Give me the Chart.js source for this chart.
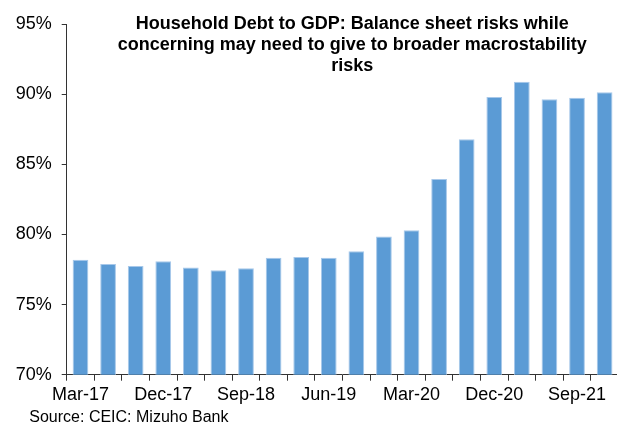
<!DOCTYPE html>
<html>
<head>
<meta charset="utf-8">
<script src="https://cdn.jsdelivr.net/npm/chart.js@4/dist/chart.umd.min.js"></script>
<style>
  html, body { margin: 0; padding: 0; background: #fff; overflow: hidden; }
  #wrap { width: 622px; height: 423px; }
</style>
</head>
<body>
<div id="wrap"><canvas id="debtChart" width="622" height="423"></canvas></div>
<script>
const quarters = ["Mar-17", "Jun-17", "Sep-17", "Dec-17", "Mar-18", "Jun-18", "Sep-18", "Dec-18",
    "Mar-19", "Jun-19", "Sep-19", "Dec-19", "Mar-20", "Jun-20", "Sep-20", "Dec-20",
    "Mar-21", "Jun-21", "Sep-21", "Dec-21"];
const debtToGdp = [78.2, 77.9, 77.75, 78.1, 77.65, 77.45, 77.6, 78.35,
    78.4, 78.35, 78.8, 79.85, 80.3, 83.95, 86.8, 89.8,
    90.9, 89.65, 89.75, 90.15];
const titleLines = [
    "Household Debt to GDP: Balance sheet risks while",
    "concerning may need to give to broader macrostability",
    "risks"
];
const sourceNote = "Source: CEIC: Mizuho Bank";

const fontFamily = "'Liberation Sans', Arial, sans-serif";

// title sits inside the plot area, source note under the axis labels
const overlayText = {
    id: "overlayText",
    afterDraw(chart) {
        const ctx = chart.ctx;
        ctx.save();
        ctx.fillStyle = "#000";
        ctx.textAlign = "center";
        ctx.textBaseline = "alphabetic";
        ctx.font = "bold 18px " + fontFamily;
        titleLines.forEach((line, i) => {
            ctx.fillText(line, 352.3, 28.5 + i * 21);
        });
        ctx.textAlign = "left";
        ctx.font = "16px " + fontFamily;
        ctx.fillText(sourceNote, 29.3, 421.5);
        ctx.restore();
    }
};

const ctx = document.getElementById("debtChart").getContext("2d");

window.debtChart = new Chart(ctx, {
    type: "bar",
    data: {
        labels: quarters,
        datasets: [{
            data: debtToGdp,
            backgroundColor: "#5b9bd5",
            borderColor: "#a7c8ea",
            borderWidth: 1,
            barPercentage: 0.57,
            categoryPercentage: 1.0
        }]
    },
    options: {
        responsive: false,
        animation: false,
        layout: { padding: { left: 0, right: 3.6, top: 24.2, bottom: 0 } },
        plugins: {
            legend: { display: false },
            tooltip: { enabled: false }
        },
        scales: {
            x: {
                grid: {
                    offset: true,
                    drawOnChartArea: false,
                    tickLength: 6,
                    color: "#333"
                },
                border: { color: "#333", width: 1 },
                ticks: {
                    autoSkip: false,
                    maxRotation: 0,
                    padding: 4,
                    color: "#000",
                    font: { family: fontFamily, size: 18 },
                    callback: function (value, index) {
                        return index % 3 === 0 ? quarters[index] : "";
                    }
                },
                afterFit: function (scale) { scale.height = 48.3; }
            },
            y: {
                min: 70,
                max: 95,
                grid: {
                    drawOnChartArea: false,
                    tickLength: 5,
                    color: "#333"
                },
                border: { color: "#333", width: 1 },
                ticks: {
                    stepSize: 5,
                    padding: 10,
                    color: "#000",
                    font: { family: fontFamily, size: 18 },
                    callback: function (value) { return value + "%"; }
                },
                afterFit: function (scale) { scale.width = 66.7; }
            }
        }
    },
    plugins: [overlayText]
});
</script>
</body>
</html>
